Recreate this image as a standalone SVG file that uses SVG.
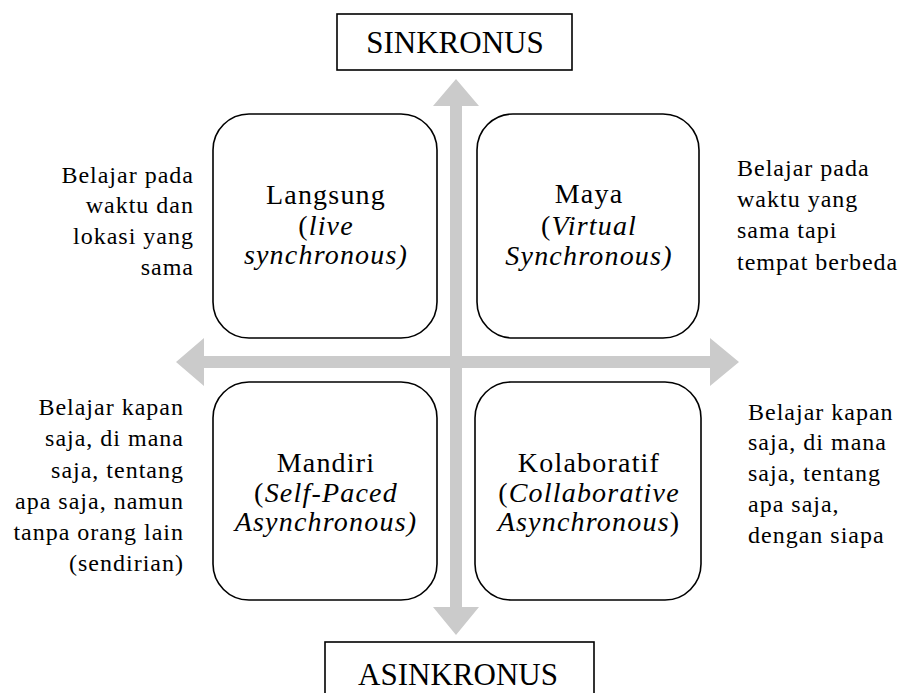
<svg xmlns="http://www.w3.org/2000/svg" width="905" height="693" viewBox="0 0 905 693" font-family="'Liberation Serif', 'Times New Roman', serif">
<style>
text{font-family:"Liberation Serif","Times New Roman",serif;fill:#000}
.title{font-size:31px;text-anchor:middle}
.bx{font-size:28px;text-anchor:middle;letter-spacing:1.2px}
.sd{font-size:24px;letter-spacing:1px}
.e{text-anchor:end}
.i{font-style:italic}
.box{fill:#fff;stroke:#000;stroke-width:1.6}
.arr{fill:#cbcbcb}
</style>
<rect width="905" height="693" fill="#fff"/>
<g id="connectors">
  <polygon class="arr" points="456,79 479,106 462,106 462,356 710,356 710,338 739,362 710,386 710,368 462,368 462,607 479,607 456,635 433,607 450,607 450,368 204,368 204,386 176,362 204,338 204,356 450,356 450,106 433,106"/>
</g>
<g id="sinkronus">
  <rect class="box" x="337" y="14" width="235" height="56"/>
  <text class="title" x="455" y="53">SINKRONUS</text>
</g>
<g id="asinkronus">
  <rect class="box" x="325" y="642" width="269" height="70"/>
  <text class="title" x="458" y="685">ASINKRONUS</text>
</g>
<g id="langsung">
  <rect class="box" x="213" y="114" width="224" height="224" rx="36"/>
  <text class="bx" x="326" y="204">Langsung</text>
  <text class="bx" x="326" y="235">(<tspan class="i">live</tspan></text>
  <text class="bx i" x="326" y="264">synchronous)</text>
</g>
<g id="maya">
  <rect class="box" x="477" y="114" width="222" height="224" rx="36"/>
  <text class="bx" x="589" y="203">Maya</text>
  <text class="bx" x="589" y="235">(<tspan class="i">Virtual</tspan></text>
  <text class="bx i" x="589" y="265">Synchronous)</text>
</g>
<g id="mandiri">
  <rect class="box" x="213" y="382" width="224" height="218" rx="36"/>
  <text class="bx" x="326" y="472">Mandiri</text>
  <text class="bx" x="326" y="502">(<tspan class="i">Self-Paced</tspan></text>
  <text class="bx i" x="326" y="531">Asynchronous)</text>
</g>
<g id="kolaboratif">
  <rect class="box" x="475" y="382" width="226" height="218" rx="36"/>
  <text class="bx" x="589" y="472">Kolaboratif</text>
  <text class="bx" x="589" y="502">(<tspan class="i">Collaborative</tspan></text>
  <text class="bx" x="589" y="531"><tspan class="i">Asynchronous</tspan>)</text>
</g>
<g id="label-tl">
  <text class="sd e" x="194" y="183">Belajar pada</text>
  <text class="sd e" x="194" y="213">waktu dan</text>
  <text class="sd e" x="194" y="244">lokasi yang</text>
  <text class="sd e" x="194" y="275">sama</text>
</g>
<g id="label-tr">
  <text class="sd" x="737" y="176">Belajar pada</text>
  <text class="sd" x="737" y="207">waktu yang</text>
  <text class="sd" x="737" y="238">sama tapi</text>
  <text class="sd" x="737" y="270">tempat berbeda</text>
</g>
<g id="label-bl">
  <text class="sd e" x="184" y="415">Belajar kapan</text>
  <text class="sd e" x="184" y="446">saja, di mana</text>
  <text class="sd e" x="184" y="478">saja, tentang</text>
  <text class="sd e" x="184" y="509">apa saja, namun</text>
  <text class="sd e" x="184" y="540">tanpa orang lain</text>
  <text class="sd e" x="184" y="571">(sendirian)</text>
</g>
<g id="label-br">
  <text class="sd" x="748" y="420">Belajar kapan</text>
  <text class="sd" x="748" y="450">saja, di mana</text>
  <text class="sd" x="748" y="481">saja, tentang</text>
  <text class="sd" x="748" y="512">apa saja,</text>
  <text class="sd" x="748" y="543">dengan siapa</text>
</g>
</svg>
